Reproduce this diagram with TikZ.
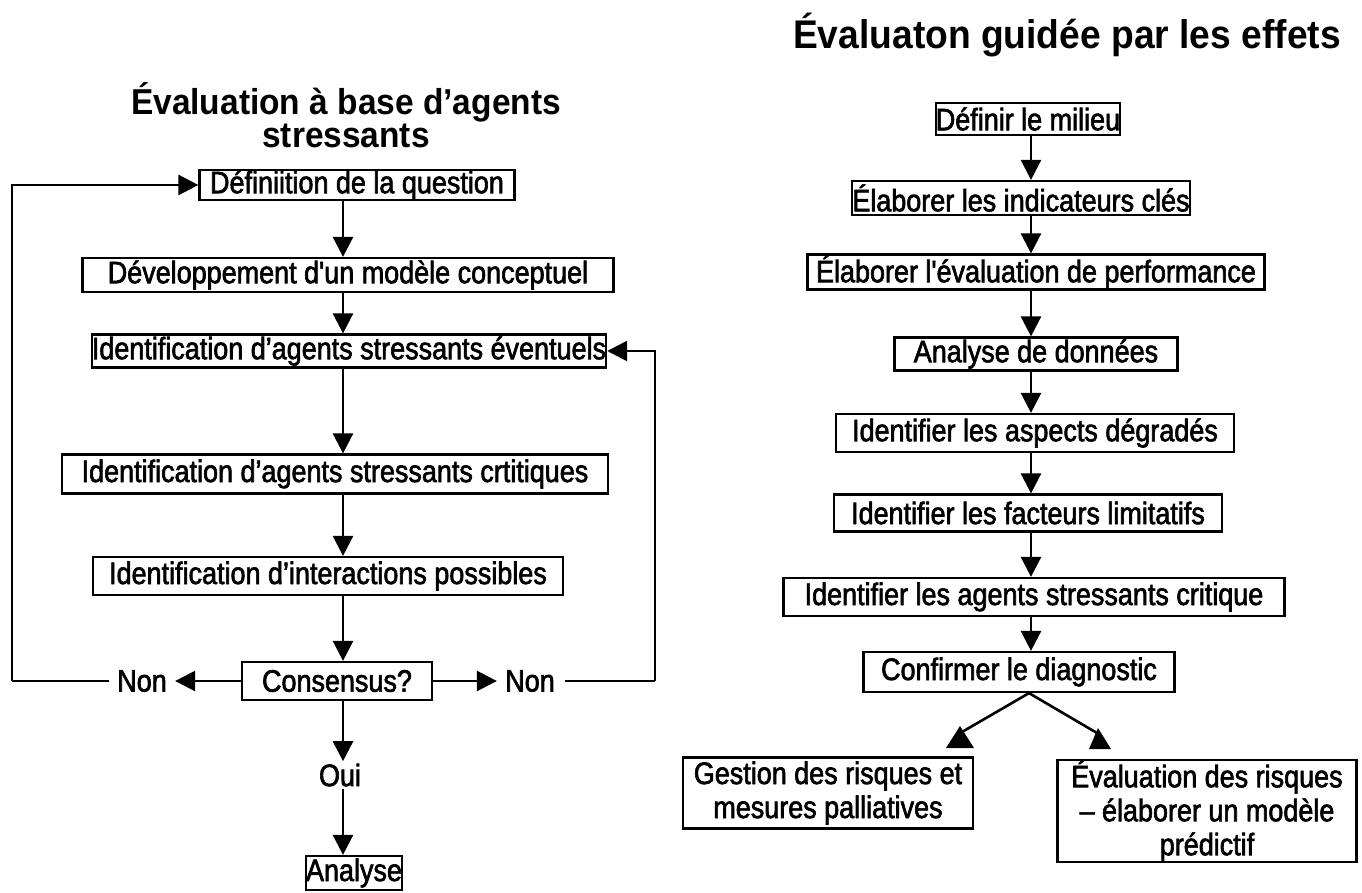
\documentclass[tikz,border=0pt]{standalone}
\usepackage{fontspec}
\setmainfont{Liberation Sans}[FakeStretch=0.93]
\newfontfamily\boxfont{Liberation Sans}[FakeStretch=0.87,FakeBold=2]
\usetikzlibrary{arrows.meta}
\begin{document}
\begin{tikzpicture}[x=0.5pt,y=-0.5pt,
  sz/.style 2 args={minimum width=#1*0.5pt,minimum height=#2*0.5pt},
  stepbox/.style={draw,line width=1.1pt,inner sep=0pt,align=center,
    font=\boxfont\fontsize{15.5}{16}\selectfont},
  lbl/.style={inner sep=1pt,font=\boxfont\fontsize{15.5}{16}\selectfont},
  ttl/.style={font=\bfseries\fontsize{18}{15.5}\selectfont,align=center},
  arr/.style={line width=1.3pt,-{Triangle[length=10pt,width=10pt]}},
  ln/.style={line width=1.3pt},
  headfill/.style={fill=black}]
\useasboundingbox (0,0) rectangle (1362,893);

% ---------- left flowchart ----------
\node[ttl] (tl) at (346,115) {Évaluation à base d’agents\\stressants};

\node[stepbox,sz={315}{28}] (q1) at (357,185) {Définiition de la question};
\node[stepbox,sz={531}{34}] (q2) at (348,275) {Développement d'un modèle conceptuel};
\node[stepbox,sz={482}{33}] (q3) at (349,351) {Identification d’agents stressants éventuels};
\node[stepbox,sz={546}{39}] (q4) at (335,474) {Identification d’agents stressants crtitiques};
\node[stepbox,sz={470}{38}] (q5) at (328,576) {Identification d’interactions possibles};
\node[stepbox,sz={190}{38}] (cons) at (337,681) {Consensus?};
\node[lbl] (oui) at (340,775) {Oui};
\node[stepbox,sz={96}{34}] (ana) at (354,873) {Analyse};
\node[lbl] (nonL) at (142,681) {Non};
\node[lbl] (nonR) at (530,681) {Non};

\coordinate (colL) at (343,0);
\draw[arr] (q1.south -| colL) -- (q2.north -| colL);
\draw[arr] (q2.south -| colL) -- (q3.north -| colL);
\draw[arr] (q3.south -| colL) -- (q4.north -| colL);
\draw[arr] (q4.south -| colL) -- (q5.north -| colL);
\draw[arr] (q5.south -| colL) -- (cons.north -| colL);
\draw[arr] (cons.south -| colL) -- (oui.north -| colL);
\draw[arr] (oui.south -| colL) -- (ana.north -| colL);

\draw[arr] (cons.west) -- ([xshift=3pt]nonL.east);
\draw[arr] (cons.east) -- ([xshift=-3pt]nonR.west);
\draw[ln] ([xshift=-3pt]nonL.west) -- (12,681);
\draw[arr] (12,681) |- (q1.west);
\draw[ln] ([xshift=4pt]nonR.east) -- (655,681);
\draw[arr] (655,681) |- (q3.east);

% ---------- right flowchart ----------
\node[ttl,font=\bfseries\fontsize{20}{22}\selectfont] (tr) at (1067,35) {Évaluaton guidée par les effets};

\node[stepbox,sz={180}{32}] (d1) at (1028,119) {Définir le milieu};
\node[stepbox,sz={337}{34}] (d2) at (1021,198) {Élaborer les indicateurs clés};
\node[stepbox,sz={457}{35}] (d3) at (1036,272) {Élaborer l'évaluation de performance};
\node[stepbox,sz={283}{33}] (d4) at (1036,354) {Analyse de données};
\node[stepbox,sz={398}{38}] (d5) at (1035,433) {Identifier les aspects dégradés};
\node[stepbox,sz={388}{37}] (d6) at (1028,513) {Identifier les facteurs limitatifs};
\node[stepbox,sz={501}{38}] (d7) at (1034,597) {Identifier les agents stressants critique};
\node[stepbox,sz={311}{40}] (d8) at (1019,672) {Confirmer le diagnostic};
\node[stepbox,sz={290}{71}] (g) at (828,793)
  {Gestion des risques et\\[1pt]mesures palliatives};
\node[stepbox,sz={299}{98}] (e) at (1207,811)
  {Évaluation des risques\\[1pt]– élaborer un modèle\\[1pt]prédictif};

\coordinate (colR) at (1031,0);
\draw[arr] (d1.south -| colR) -- (d2.north -| colR);
\draw[arr] (d2.south -| colR) -- (d3.north -| colR);
\draw[arr] (d3.south -| colR) -- (d4.north -| colR);
\draw[arr] (d4.south -| colR) -- (d5.north -| colR);
\draw[arr] (d5.south -| colR) -- (d6.north -| colR);
\draw[arr] (d6.south -| colR) -- (d7.north -| colR);
\draw[arr] (d7.south -| colR) -- (d8.north -| colR);

% two branches, each ending in a flat-based triangle
\coordinate (split) at (d8.south -| 1029,0);
\coordinate (endG) at (962,732);
\coordinate (endE) at (1097,733);
\draw[ln] (split) -- (endG);
\draw[ln] (split) -- (endE);
\fill[headfill] (946,748) -- (974,748) -- (960,726) -- cycle;
\fill[headfill] (1089,749) -- (1111,749) -- (1098,728) -- cycle;
\end{tikzpicture}
\end{document}
